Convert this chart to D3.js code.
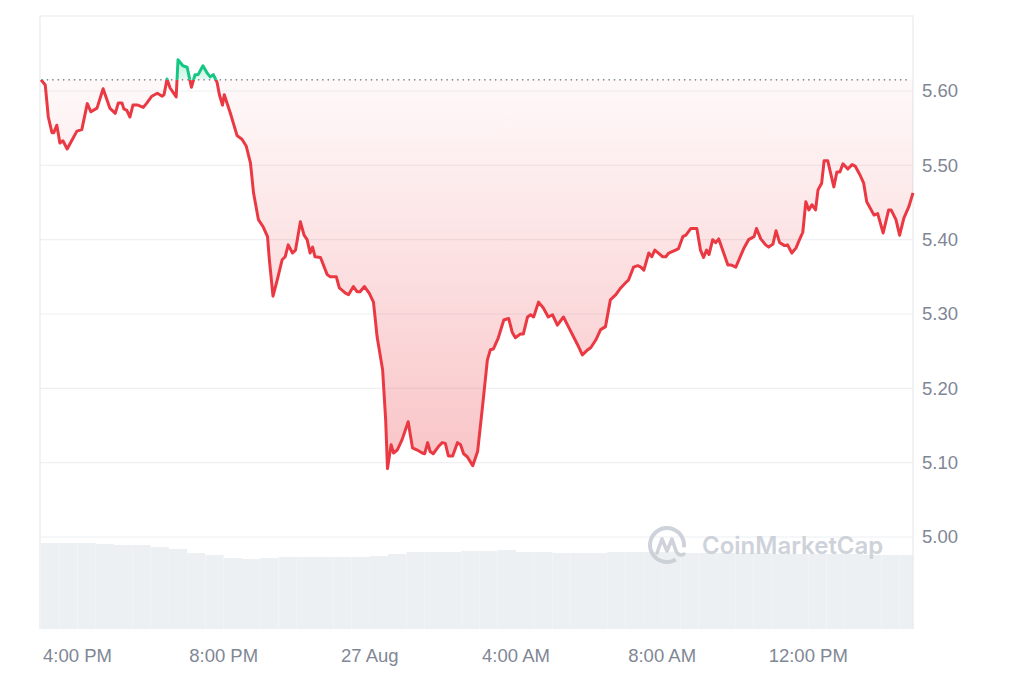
<!DOCTYPE html>
<html lang="en">

<head>
    <meta charset="UTF-8">
    <title>Price chart with D3.js</title>
    <script src="https://d3js.org/d3.v7.min.js"></script>
    <style>
        body {
            margin: 0;
            background: #fff;
        }

        .tick-label {
            font-family: "Liberation Sans", Arial, sans-serif;
            font-size: 18.5px;
            fill: #7f8795;
        }
    </style>
</head>

<body>
    <svg id="chart" width="1024" height="683"></svg>

    <script>
        // minutes after 26 Aug 15:00
        const minutes = [0, 7, 12, 18, 21, 26, 31, 36, 43, 51, 59, 67, 76, 82, 92, 102, 113, 122, 127, 133,
            136, 141, 146, 151, 159, 168, 174, 182, 191, 199, 202, 207, 212, 222, 225, 233, 240, 247, 253, 258,
            266, 273, 278, 283, 289, 293, 298, 301, 311, 322, 330, 337, 344, 349, 357, 365, 372, 375, 381, 388,
            396, 401, 406, 413, 418, 426, 432, 437, 442, 446, 450, 459, 470, 475, 485, 490, 500, 505, 513, 519,
            524, 531, 539, 546, 552, 561, 566, 569, 575, 579, 585, 593, 603, 610, 618, 626, 630, 635, 639, 644,
            653, 659, 664, 669, 676, 684, 689, 694, 700, 709, 717, 725, 733, 738, 743, 751, 760, 768, 774, 779,
            787, 792, 799, 804, 809, 817, 825, 833, 840, 848, 858, 866, 881, 889, 898, 903, 911, 919, 927, 935,
            944, 952, 960, 965, 973, 980, 985, 990, 998, 1003, 1008, 1014, 1021, 1026, 1031, 1042, 1047, 1054, 1059, 1067,
            1077, 1083, 1088, 1093, 1097, 1103, 1108, 1113, 1128, 1133, 1141, 1154, 1162, 1171, 1175, 1182, 1190, 1195, 1202, 1207,
            1213, 1221, 1226, 1233, 1240, 1244, 1251, 1256, 1261, 1266, 1272, 1276, 1282, 1286, 1292, 1302, 1307, 1312, 1317, 1325,
            1332, 1337, 1345, 1351, 1356, 1368, 1374, 1383, 1392, 1396, 1404, 1410, 1417, 1425, 1432];

        const prices = [5.615, 5.608, 5.565, 5.544, 5.544, 5.554, 5.530, 5.533, 5.522, 5.534, 5.546, 5.548, 5.583, 5.572, 5.577, 5.603, 5.577, 5.570, 5.584, 5.584,
            5.576, 5.574, 5.565, 5.581, 5.581, 5.578, 5.584, 5.593, 5.597, 5.593, 5.595, 5.616, 5.604, 5.592, 5.642, 5.634, 5.632, 5.605, 5.622, 5.622,
            5.634, 5.624, 5.619, 5.622, 5.612, 5.595, 5.581, 5.595, 5.570, 5.540, 5.535, 5.526, 5.503, 5.463, 5.427, 5.417, 5.404, 5.373, 5.324, 5.346,
            5.373, 5.377, 5.393, 5.382, 5.386, 5.424, 5.406, 5.400, 5.382, 5.390, 5.377, 5.376, 5.353, 5.350, 5.350, 5.335, 5.328, 5.326, 5.337, 5.330,
            5.330, 5.337, 5.328, 5.316, 5.269, 5.225, 5.158, 5.092, 5.124, 5.113, 5.117, 5.131, 5.155, 5.120, 5.117, 5.113, 5.112, 5.127, 5.115, 5.112,
            5.122, 5.127, 5.126, 5.109, 5.109, 5.127, 5.124, 5.112, 5.108, 5.096, 5.115, 5.175, 5.238, 5.252, 5.253, 5.268, 5.292, 5.294, 5.275, 5.268,
            5.273, 5.273, 5.296, 5.299, 5.296, 5.316, 5.308, 5.296, 5.299, 5.285, 5.296, 5.283, 5.259, 5.245, 5.252, 5.255, 5.265, 5.279, 5.283, 5.319,
            5.326, 5.335, 5.342, 5.346, 5.363, 5.365, 5.363, 5.359, 5.382, 5.377, 5.386, 5.382, 5.377, 5.377, 5.382, 5.386, 5.388, 5.404, 5.406, 5.415,
            5.415, 5.386, 5.376, 5.386, 5.380, 5.400, 5.396, 5.401, 5.366, 5.366, 5.363, 5.388, 5.400, 5.404, 5.415, 5.401, 5.393, 5.390, 5.394, 5.412,
            5.396, 5.392, 5.393, 5.382, 5.389, 5.397, 5.410, 5.451, 5.440, 5.447, 5.440, 5.467, 5.476, 5.506, 5.506, 5.471, 5.491, 5.491, 5.502, 5.495,
            5.501, 5.499, 5.487, 5.476, 5.451, 5.433, 5.435, 5.409, 5.440, 5.440, 5.427, 5.406, 5.429, 5.444, 5.463];

        // volume (millions), one bar per 30 minutes
        const volumes = [8.6, 8.6, 8.6, 8.5, 8.4, 8.4, 8.2, 8.0, 7.6, 7.4, 7.1, 7.0, 7.1, 7.2, 7.2, 7.2,
            7.2, 7.2, 7.3, 7.5, 7.7, 7.7, 7.7, 7.8, 7.8, 7.9, 7.7, 7.7, 7.6, 7.6, 7.6, 7.7,
            7.7, 7.7, 7.7, 7.6, 7.6, 7.6, 7.6, 7.6, 7.5, 7.5, 7.5, 7.5, 7.5, 7.4, 7.4, 7.4];

        const priceTicks = [5.00, 5.10, 5.20, 5.30, 5.40, 5.50, 5.60];
        const openPrice = 5.615;

        const startTime = new Date(2024, 7, 26, 15, 0);
        const toDate = m => new Date(startTime.getTime() + m * 60000);
        const data = minutes.map((m, i) => ({ t: toDate(m), p: prices[i] }));

        const svg = d3.select("#chart");
        const plotLeft = 40, plotRight = 913, plotTop = 16, plotBottom = 629;

        const x = d3.scaleTime()
            .domain([toDate(0), toDate(minutes[minutes.length - 1])])
            .range([plotLeft + 1, plotRight]);

        const y = d3.scaleLinear()
            .domain([5.0, 5.6])
            .range([537, 91]);

        const yVol = d3.scaleLinear()
            .domain([0, 9.5])
            .range([plotBottom, plotBottom - 95]);

        const red = "#ea3943", green = "#16c784";
        const yBase = y(openPrice);

        const defs = svg.append("defs");
        const gRed = defs.append("linearGradient").attr("id", "gradRed")
            .attr("gradientUnits", "userSpaceOnUse")
            .attr("x1", 0).attr("x2", 0).attr("y1", yBase).attr("y2", y(5.09));
        gRed.append("stop").attr("offset", 0).attr("stop-color", red).attr("stop-opacity", 0.03);
        gRed.append("stop").attr("offset", 1).attr("stop-color", red).attr("stop-opacity", 0.3);

        const gGreen = defs.append("linearGradient").attr("id", "gradGreen")
            .attr("gradientUnits", "userSpaceOnUse")
            .attr("x1", 0).attr("x2", 0).attr("y1", y(5.645)).attr("y2", yBase);
        gGreen.append("stop").attr("offset", 0).attr("stop-color", green).attr("stop-opacity", 0.3);
        gGreen.append("stop").attr("offset", 1).attr("stop-color", green).attr("stop-opacity", 0.1);

        defs.append("clipPath").attr("id", "below")
            .append("rect").attr("x", 0).attr("y", yBase).attr("width", 1024).attr("height", 683);
        defs.append("clipPath").attr("id", "above")
            .append("rect").attr("x", 0).attr("y", 0).attr("width", 1024).attr("height", yBase);

        // volume bars
        const slot = 30 * 60000;
        const slotStart = i => new Date(startTime.getTime() + i * slot);
        svg.append("g").selectAll("rect")
            .data(volumes)
            .enter().append("rect")
            .attr("x", (d, i) => x(slotStart(i)))
            .attr("width", (d, i) => Math.min(x(slotStart(i + 1)), plotRight) - x(slotStart(i)))
            .attr("y", d => yVol(d))
            .attr("height", d => plotBottom - yVol(d))
            .attr("fill", "#edf0f3");

        // grid lines
        svg.append("g").selectAll("line")
            .data(priceTicks)
            .enter().append("line")
            .attr("x1", plotLeft).attr("x2", plotRight)
            .attr("y1", d => y(d)).attr("y2", d => y(d))
            .attr("stroke", "#eef0f3").attr("stroke-width", 1.2);

        // frame
        svg.append("path")
            .attr("d", `M${plotLeft},${plotBottom}V${plotTop}H${plotRight}V${plotBottom}`)
            .attr("fill", "none").attr("stroke", "#e8eaed").attr("stroke-width", 1.2);

        // watermark
        const wm = svg.append("g").attr("transform", "translate(667,545)").attr("opacity", 0.9);
        wm.append("path")
            .attr("d", d3.arc()({ innerRadius: 15, outerRadius: 19, startAngle: 2.6, endAngle: 2.6 + 2 * Math.PI - 0.9 }))
            .attr("fill", "#c9ced6");
        wm.append("path")
            .attr("d", "M-10,8 L-5,-6 L0,6 L5,-6 L9,6 Q12,12 17,9")
            .attr("fill", "none").attr("stroke", "#c9ced6").attr("stroke-width", 3.5)
            .attr("stroke-linejoin", "round").attr("stroke-linecap", "round");
        wm.append("text")
            .attr("x", 35).attr("y", 9)
            .attr("font-family", "Inter, 'Liberation Sans', sans-serif")
            .attr("font-size", 24).attr("font-weight", 600)
            .attr("fill", "#c9ced6")
            .text("CoinMarketCap");

        // price area and line
        const area = d3.area().x(d => x(d.t)).y0(yBase).y1(d => y(d.p));
        const line = d3.line().x(d => x(d.t)).y(d => y(d.p));

        svg.append("path").datum(data).attr("d", area)
            .attr("fill", "url(#gradRed)").attr("clip-path", "url(#below)");
        svg.append("path").datum(data).attr("d", area)
            .attr("fill", "url(#gradGreen)").attr("clip-path", "url(#above)");

        // dotted open-price line
        svg.append("line")
            .attr("x1", plotLeft + 2).attr("x2", plotRight - 2)
            .attr("y1", yBase).attr("y2", yBase)
            .attr("stroke", "#80868f").attr("stroke-width", 1.6)
            .attr("stroke-linecap", "round")
            .attr("stroke-dasharray", "0.2,5.2");

        svg.append("path").datum(data).attr("d", line)
            .attr("fill", "none").attr("stroke", red).attr("stroke-width", 3)
            .attr("stroke-linejoin", "round").attr("clip-path", "url(#below)");
        svg.append("path").datum(data).attr("d", line)
            .attr("fill", "none").attr("stroke", green).attr("stroke-width", 3)
            .attr("stroke-linejoin", "round").attr("clip-path", "url(#above)");

        // y axis labels
        svg.append("g").selectAll("text")
            .data(priceTicks)
            .enter().append("text")
            .attr("class", "tick-label")
            .attr("x", 922)
            .attr("y", d => y(d))
            .attr("dy", "0.35em")
            .text(d => d.toFixed(2));

        // x axis labels
        const fmt = d => d.getHours() === 0 ? d3.timeFormat("%-d %b")(d) : d3.timeFormat("%-I:%M %p")(d);
        svg.append("g").selectAll("text")
            .data(x.ticks(d3.timeHour.every(4)))
            .enter().append("text")
            .attr("class", "tick-label")
            .attr("x", d => x(d))
            .attr("y", 656)
            .attr("dy", "0.35em")
            .attr("text-anchor", "middle")
            .text(fmt);
    </script>
</body>

</html>
